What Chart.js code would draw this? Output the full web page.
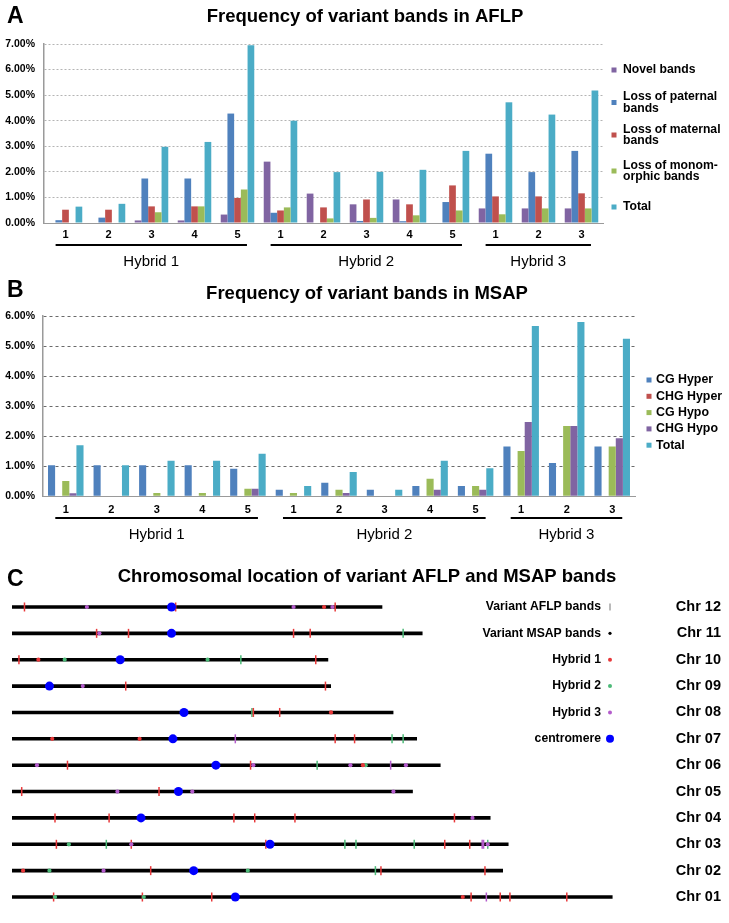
<!DOCTYPE html>
<html><head><meta charset="utf-8">
<script src="https://cdn.jsdelivr.net/npm/chart.js@4.4.1/dist/chart.umd.min.js"></script>
<style>
html,body{margin:0;padding:0;background:#fff;}
#wrap{position:relative;width:729px;height:923px;overflow:hidden;background:#fff;}
canvas{position:absolute;left:0;}
</style></head>
<body><div id="wrap">
<canvas id="cA" width="729" height="280" style="top:0px"></canvas>
<canvas id="cB" width="729" height="275" style="top:280px"></canvas>
<canvas id="cC" width="729" height="368" style="top:555px"></canvas>
</div>
<script>
// ---------------- DATA ----------------
const categories = ['1','2','3','4','5','1','2','3','4','5','1','2','3'];
const hybridGroups = ['Hybrid 1','Hybrid 2','Hybrid 3'];
const groupSizes = [5,5,3];

// Panel A: AFLP (%)
const aflpNovel       = [0,0,0.10,0.10,0.33, 2.40,1.15,0.73,0.92,0, 0.57,0.57,0.57];
const aflpPaternal    = [0.11,0.21,1.74,1.74,4.28, 0.40,0,0.08,0.07,0.82, 2.71,1.99,2.82];
const aflpMaternal    = [0.52,0.52,0.65,0.65,0.98, 0.49,0.61,0.92,0.73,1.47, 1.04,1.04,1.16];
const aflpMonomorphic = [0,0,0.42,0.65,1.31, 0.61,0.18,0.20,0.30,0.49, 0.34,0.57,0.57];
const aflpTotal       = [0.64,0.75,2.98,3.17,6.95, 4.00,1.99,2.00,2.08,2.82, 4.72,4.24,5.18];
const aflpLegend = [['Novel bands'],['Loss of paternal','bands'],['Loss of maternal','bands'],['Loss of monom-','orphic bands'],['Total']];

// Panel B: MSAP (%)
const msapCGHyper  = [1.03,1.03,1.03,1.03,0.92, 0.22,0.45,0.22,0.34,0.34, 1.66,1.11,1.66];
const msapCHGHyper = [0,0,0,0,0, 0,0,0,0,0, 0,0,0];
const msapCGHypo   = [0.51,0,0.11,0.11,0.25, 0.11,0.22,0,0.58,0.34, 1.51,2.34,1.66];
const msapCHGHypo  = [0.10,0,0,0,0.25, 0,0.11,0,0.22,0.22, 2.47,2.34,1.93];
const msapTotal    = [1.70,1.03,1.18,1.18,1.42, 0.34,0.81,0.22,1.18,0.93, 5.67,5.80,5.24];
const msapLegend = ['CG Hyper','CHG Hyper','CG Hypo','CHG Hypo','Total'];

// Panel C: chromosome map (positions in Mb)
const chrNames   = ['Chr 01','Chr 02','Chr 03','Chr 04','Chr 05','Chr 06','Chr 07','Chr 08','Chr 09','Chr 10','Chr 11','Chr 12'];
const chrLengths = [43.3,35.4,35.8,34.5,28.9,30.9,29.2,27.5,23.0,22.8,29.6,26.7];
const centromeres= [16.1,13.1,18.6,9.3,12.0,14.7,11.6,12.4,2.7,7.8,11.5,11.5];
// [chromosome, position Mb]
const aflpHybrid1 = [[12,0.9],[12,11.8],[12,23.3],[11,6.1],[11,8.4],[11,20.3],[11,21.5],[10,0.5],[10,21.9],
  [9,8.2],[9,22.6],[8,17.4],[8,19.3],[7,23.3],[7,24.7],[6,4.0],[6,17.2],[5,0.7],[5,10.6],
  [4,3.1],[4,7.0],[4,16.0],[4,17.5],[4,20.4],[4,31.9],[3,3.2],[3,8.6],[3,18.3],[3,31.2],[3,33.0],
  [2,10.0],[2,26.6],[2,34.1],[1,3.0],[1,9.4],[1,14.4],[1,33.1],[1,35.2],[1,35.9],[1,40.0]];
const aflpHybrid2 = [[11,28.2],[10,16.5],[8,17.3],[7,27.4],[7,28.2],[6,22.0],[3,6.8],[3,24.0],[3,24.8],[3,29.0],[3,34.3],[2,26.2]];
const aflpHybrid3 = [[7,16.1],[6,27.3],[3,33.9],[3,34.0],[1,34.2]];
const msapHybrid1 = [[12,22.5],[10,1.9],[8,23.0],[7,2.9],[7,9.2],[6,25.3],[2,0.8],[1,32.5]];
const msapHybrid2 = [[10,3.8],[10,14.1],[6,25.5],[3,4.1],[2,2.7],[2,17.0],[1,3.1],[1,9.5]];
const msapHybrid3 = [[12,5.4],[12,20.3],[12,23.1],[11,6.3],[9,5.1],[6,1.8],[6,17.4],[6,24.4],[6,28.4],
  [5,7.6],[5,13.0],[5,27.5],[4,33.2],[3,8.6],[3,34.3],[2,6.6]];
const mapLegend = ['Variant AFLP bands','Variant MSAP bands','Hybrid 1','Hybrid 2','Hybrid 3','centromere'];

// ---------------- STYLE ----------------
const FONT = '"Liberation Sans", Arial, Helvetica, sans-serif';
const PURPLE='#8064A2', BLUE='#4F81BD', RED='#C0504D', GREEN='#9BBB59', CYAN='#4BACC6';
const H1C='#e8383a', H2C='#4cba78', H3C='#b45ccc', CENC='#0000ff';

function text(ctx, s, x, y, font, align, color){
  ctx.save(); ctx.font=font; ctx.fillStyle=color||'#000'; ctx.textAlign=align||'left'; ctx.textBaseline='middle';
  ctx.fillText(s,x,y); ctx.restore();
}

function barDecor(cfg){
  return {
    id:'decor',
    afterDraw(chart){
      const ctx=chart.ctx, xs=chart.scales.x;
      text(ctx, cfg.letter, 7, cfg.letterY, 'bold 23px '+FONT, 'left');
      text(ctx, cfg.title, cfg.titleX, cfg.titleY, 'bold 18.5px '+FONT, 'center');
      const w = xs.getPixelForValue(1)-xs.getPixelForValue(0);
      let start=0;
      groupSizes.forEach((n,i)=>{
        const x0=xs.getPixelForValue(start)-0.23*w, x1=xs.getPixelForValue(start+n-1)+0.22*w;
        ctx.save(); ctx.strokeStyle='#000'; ctx.lineWidth=2; ctx.beginPath();
        ctx.moveTo(x0,cfg.lineY); ctx.lineTo(x1,cfg.lineY); ctx.stroke(); ctx.restore();
        text(ctx, hybridGroups[i], (x0+x1)/2, cfg.groupTextY, '15px '+FONT, 'center');
        start+=n;
      });
      // legend
      cfg.legend.forEach((lines,i)=>{
        const cy=cfg.legendY[i];
        const ds=chart.data.datasets[i];
        ctx.save(); ctx.fillStyle=ds.backgroundColor; ctx.fillRect(cfg.markerX-2.5, cy-2.5, 5, 5); ctx.restore();
        const lh=cfg.lineH, n=lines.length;
        lines.forEach((l,j)=>{
          text(ctx, l, cfg.textX, cy+(j-(n-1)/2)*lh, 'bold '+cfg.legendFont+'px '+FONT, 'left');
        });
      });
    }
  };
}

function barChart(id, series, colors, names, yMax, layout, gridStyle, decor){
  return new Chart(document.getElementById(id), {
    type:'bar',
    data:{ labels:categories, datasets: series.map((d,i)=>({label:names[i], data:d, backgroundColor:colors[i], borderWidth:0,
      categoryPercentage:0.78, barPercentage:1})) },
    options:{
      responsive:false, animation:false, devicePixelRatio:1,
      layout:{padding:layout.padding},
      plugins:{legend:{display:false}, tooltip:{enabled:false}},
      scales:{
        x:{ grid:{display:false, drawTicks:false}, border:{display:true, color:'#9a9a9a', width:1},
            ticks:{color:'#000', font:{family:FONT, weight:'bold', size:11}, padding:layout.xPad, autoSkip:false, maxRotation:0},
            afterFit:(s)=>{ s.height=layout.xHeight; } },
        y:{ min:0, max:yMax, ticks:{stepSize:1, color:'#000', padding:layout.yPad, font:{family:FONT, weight:'bold', size:10.5},
              callback:(v)=>v.toFixed(2)+'%'},
            grid:{color:gridStyle.color, lineWidth:1, drawTicks:false},
            border:{display:true, color:'#9a9a9a', width:1.5, dash:gridStyle.dash},
            afterFit:(s)=>{ s.width=layout.yWidth; } }
      }
    },
    plugins:[decor]
  });
}

barChart('cA', [aflpNovel,aflpPaternal,aflpMaternal,aflpMonomorphic,aflpTotal], [PURPLE,BLUE,RED,GREEN,CYAN],
  aflpLegend.map(l=>l.join(' ')), 7,
  {padding:{top:44,right:126,left:0,bottom:0}, xHeight:57, yWidth:44, xPad:5, yPad:9},
  {color:'#b4b4b4', dash:[2,2]},
  barDecor({letter:'A', letterY:17, title:'Frequency of variant bands in AFLP', titleX:365, titleY:17,
    lineY:245, groupTextY:262, legend:aflpLegend, legendY:[70,102.5,135,171,207], markerX:614, textX:623, lineH:11.5, legendFont:12.2}));

barChart('cB', [msapCGHyper,msapCHGHyper,msapCGHypo,msapCHGHypo,msapTotal], [BLUE,RED,GREEN,PURPLE,CYAN],
  msapLegend, 6,
  {padding:{top:36,right:94,left:0,bottom:0}, xHeight:58.7, yWidth:43, xPad:7, yPad:8},
  {color:'#6a6a6a', dash:[3,3]},
  barDecor({letter:'B', letterY:11, title:'Frequency of variant bands in MSAP', titleX:367, titleY:14,
    lineY:238, groupTextY:255, legend:msapLegend.map(s=>[s]), legendY:[100,116.3,132.6,148.9,165.2], markerX:649, textX:656, lineH:12, legendFont:12.4}));

// ---------------- PANEL C ----------------
const toPts = arr => arr.map(([c,p])=>({x:p, y:c}));
const chrDatasets = chrLengths.map((len,i)=>({ data:[{x:0,y:i+1},{x:len,y:i+1}], showLine:true, pointRadius:0,
  borderColor:'#000', borderWidth:3.6, borderCapStyle:'butt', order:5, clip:false }));
const tick = (arr,color)=>({ data:toPts(arr), pointStyle:'line', pointRotation:90, pointRadius:4.5, pointBorderWidth:1.5,
  pointBorderColor:color, borderColor:color, backgroundColor:color, order:3, clip:false });
const dot = (arr,color)=>({ data:toPts(arr), pointStyle:'circle', pointRadius:2.1, pointBorderWidth:0,
  pointBackgroundColor:color, backgroundColor:color, order:2, clip:false });

const mapDecor = {
  id:'mapDecor',
  afterDraw(chart){
    const ctx=chart.ctx, ys=chart.scales.y;
    text(ctx,'C',7,24.5,'bold 23px '+FONT,'left');
    text(ctx,'Chromosomal location of variant AFLP and MSAP bands',367,22,'bold 18.5px '+FONT,'center');
    chrNames.forEach((n,i)=>{ text(ctx,n,721,ys.getPixelForValue(i+1),'bold 14.5px '+FONT,'right'); });
    const mk=[{t:'tick',c:'#777'},{t:'dot',c:'#000',r:1.6},{t:'dot',c:H1C,r:2},{t:'dot',c:H2C,r:2},{t:'dot',c:H3C,r:2},{t:'dot',c:CENC,r:4}];
    mapLegend.forEach((s,i)=>{
      const y=ys.getPixelForValue(12-i);
      text(ctx,s,601,y,'bold 12.2px '+FONT,'right');
      ctx.save();
      if(mk[i].t==='tick'){ ctx.strokeStyle=mk[i].c; ctx.lineWidth=1; ctx.beginPath(); ctx.moveTo(610,y-3.5); ctx.lineTo(610,y+3.5); ctx.stroke(); }
      else { ctx.fillStyle=mk[i].c; ctx.beginPath(); ctx.arc(610,y,mk[i].r,0,Math.PI*2); ctx.fill(); }
      ctx.restore();
    });
  }
};

new Chart(document.getElementById('cC'), {
  type:'scatter',
  data:{ datasets:[
    ...chrDatasets,
    tick(aflpHybrid1,H1C), tick(aflpHybrid2,H2C), tick(aflpHybrid3,H3C),
    dot(msapHybrid1,H1C), dot(msapHybrid2,H2C), dot(msapHybrid3,H3C),
    { data:centromeres.map((p,i)=>({x:p,y:i+1})), pointStyle:'circle', pointRadius:4.5, pointBorderWidth:0,
      pointBackgroundColor:CENC, backgroundColor:CENC, order:1, clip:false }
  ]},
  options:{
    responsive:false, animation:false, devicePixelRatio:1,
    layout:{padding:{left:12,right:23.5,top:38.8,bottom:12.8}},
    plugins:{legend:{display:false}, tooltip:{enabled:false}},
    scales:{ x:{type:'linear',min:0,max:50,display:false}, y:{type:'linear',min:0.5,max:12.5,display:false} }
  },
  plugins:[mapDecor]
});
</script>
</body></html>
